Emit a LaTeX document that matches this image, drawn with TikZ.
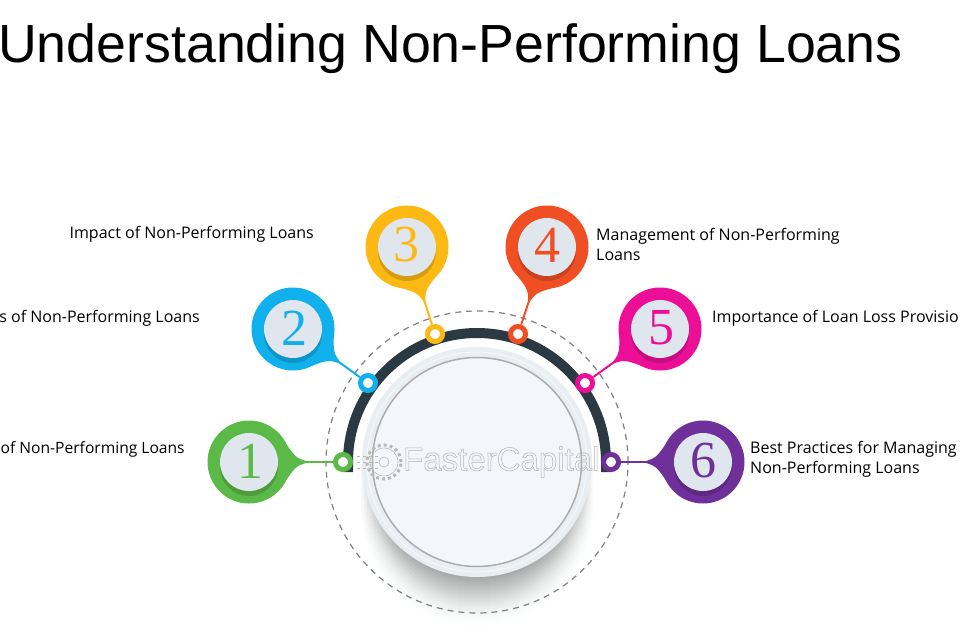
\documentclass[tikz,border=0pt]{standalone}
\usepackage{fontspec}
\setmainfont{Liberation Sans}
\newfontfamily\labelfont{Open Sans}
\newfontfamily\digitfont{Liberation Serif}
\usetikzlibrary{calc}
\definecolor{cgreen}{HTML}{5BB947}
\definecolor{cblue}{HTML}{0FB0EC}
\definecolor{cyellow}{HTML}{FDB913}
\definecolor{corange}{HTML}{F04E23}
\definecolor{cmagenta}{HTML}{EC0E97}
\definecolor{cpurple}{HTML}{70309A}
\definecolor{cdark}{HTML}{2B3A42}
\definecolor{cface}{HTML}{DFE6EE}
\definecolor{cshadow}{HTML}{7F8FA3}
\definecolor{cdisc}{HTML}{F3F7FC}
\definecolor{crim}{HTML}{E9EEF2}
\tikzset{
  bubble/.style={circle,fill=#1,minimum size=83pt,inner sep=0pt},
  ring/.style={circle,draw=#1,fill=white,line width=5pt,minimum size=15pt,inner sep=0pt},
  pinline/.style={draw=#1,line width=2pt},
  numlabel/.style={font=\digitfont\fontsize{52}{52}\selectfont,text=#1,inner sep=0pt},
  sidelabel/.style={font=\labelfont\fontsize{16}{20}\selectfont,text=black,inner sep=0pt,align=left}
}
% taper, shaded face and digit of one bubble
\newcommand{\pinhead}[3]{
  \fill[#3] let \p1=($(#2)-(#1)$), \n1={atan2(\y1,\x1)} in
    ($(#1)+(\n1+30:41pt)$) .. controls ($(#1)+(\n1+5:47pt)$) .. ($(#1)+(\n1:60pt)$)
    .. controls ($(#1)+(\n1-5:47pt)$) .. ($(#1)+(\n1-30:41pt)$) -- cycle;
  \fill[black,opacity=0.15] ($(#1)+(0,5)$) circle (29pt);
  \fill[cface] (#1) circle (29pt);
}
\begin{document}
\begin{tikzpicture}[x=1pt,y=-1pt]
\useasboundingbox (0,0) rectangle (960,640);
\fill[white] (0,0) rectangle (960,640);
\node[anchor=base west,inner sep=0pt,font=\fontsize{53.7}{54}\selectfont,text=black] (title) at (-2,62) {Understanding Non-Performing Loans};

% shadow under the disc and dashed guide
\coordinate (centre) at (477,462);
\foreach \d in {0,4,...,48}
  \foreach \r in {0,3,...,24}
    \fill[cshadow,opacity=0.008] ($(centre)+(0,\d)$) circle ({116-\r});
\draw[gray,line width=1.2pt,dash pattern=on 6pt off 5pt] (centre) circle (151pt);

% arc
\draw[cdark,line width=10pt] (348,472) -- (348,462) arc (180:0:129pt) -- (606,472);

% disc
\fill[crim] (centre) circle (115pt);
\draw[white!60!crim,line width=1pt] (centre) circle (110pt);
\filldraw[draw=black!32,fill=cdisc,line width=1.5pt] (centre) circle (104.5pt);

% bubbles
\node[bubble=cgreen] (b1) at (249,462) {};
\node[bubble=cblue] (b2) at (293,329) {};
\node[bubble=cyellow] (b3) at (407,247) {};
\node[bubble=corange] (b4) at (547,247) {};
\node[bubble=cmagenta] (b5) at (660,329) {};
\node[bubble=cpurple] (b6) at (703,462) {};
\node[ring=cgreen] (r1) at (343,462) {};
\node[ring=cblue] (r2) at (368,383) {};
\node[ring=cyellow] (r3) at (435,334) {};
\node[ring=corange] (r4) at (518,334) {};
\node[ring=cmagenta] (r5) at (585,383) {};
\node[ring=cpurple] (r6) at (611,462) {};
\draw[pinline=cgreen] (b1) -- (r1);
\draw[pinline=cblue] (b2) -- (r2);
\draw[pinline=cyellow] (b3) -- (r3);
\draw[pinline=corange] (b4) -- (r4);
\draw[pinline=cmagenta] (b5) -- (r5);
\draw[pinline=cpurple] (b6) -- (r6);
\pinhead{b1}{r1}{cgreen}
\pinhead{b2}{r2}{cblue}
\pinhead{b3}{r3}{cyellow}
\pinhead{b4}{r4}{corange}
\pinhead{b5}{r5}{cmagenta}
\pinhead{b6}{r6}{cpurple}
\node[numlabel=cgreen] (n1) at (250,461) {1};
\node[numlabel=cblue] (n2) at (294,328) {2};
\node[numlabel=cyellow] (n3) at (406,245) {3};
\node[numlabel=corange] (n4) at (547,245) {4};
\node[numlabel=cmagenta] (n5) at (661,328) {5};
\node[numlabel=cpurple] (n6) at (703,461) {6};

% labels
\node[sidelabel,anchor=west,font=\labelfont\fontsize{15.6}{20}\selectfont] (l1) at (0.5,449) {of Non-Performing Loans};
\node[sidelabel,anchor=east] (l2) at (200,318) {s of Non-Performing Loans};
\node[sidelabel,anchor=east] (l3) at (314,234) {Impact of Non-Performing Loans};
\node[sidelabel,anchor=west] (l4) at (596,244) {Management of Non-Performing\\Loans};
\node[sidelabel,anchor=west] (l5) at (712,318) {Importance of Loan Loss Provisio};
\node[sidelabel,anchor=west] (l6) at (750,459) {Best Practices for Managing\\Non-Performing Loans};

% watermark
\node[inner sep=0pt,anchor=west,font=\fontsize{33}{33}\selectfont] (mark) at (403,462)
  {\special{pdf:code 1 Tr 0.5 w 0.7 G}FasterCapital\special{pdf:code 0 Tr 0 G}};
\draw[black!28,line width=0.6pt] (384,462) circle (14pt);
\draw[black!28,line width=3pt,dash pattern=on 3pt off 3pt] (384,462) circle (17pt);
\draw[black!28,line width=0.6pt] (384,462) circle (5pt);
\draw[black!28,line width=0.6pt,dashed] (357,456) -- (378,456);
\draw[black!28,line width=0.6pt,dashed] (357,462) -- (378,462);
\draw[black!28,line width=0.6pt,dashed] (357,468) -- (378,468);
\end{tikzpicture}
\end{document}
